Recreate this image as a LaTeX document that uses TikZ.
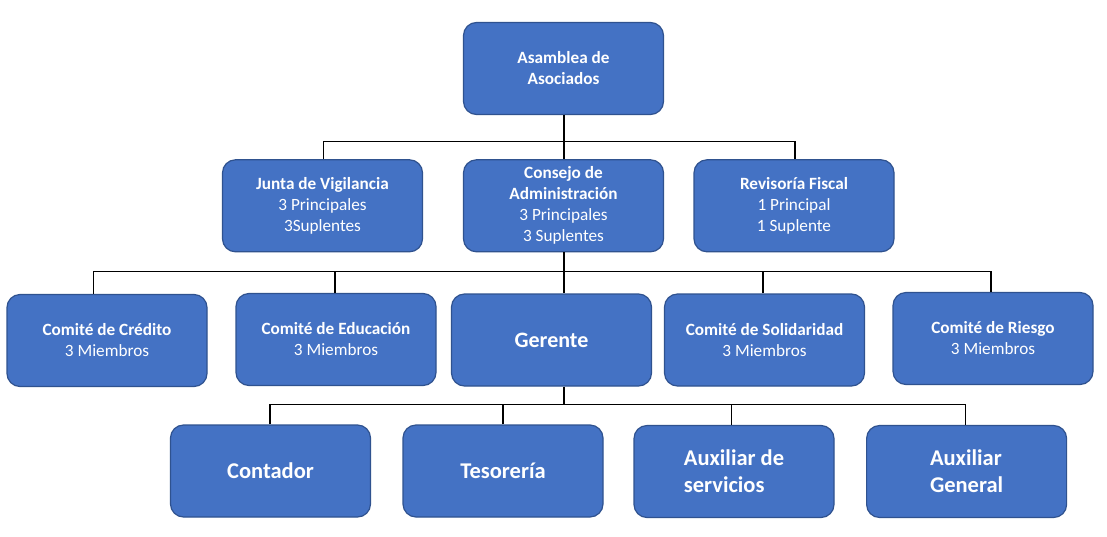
\documentclass[tikz,border=0pt]{standalone}
\usepackage{fontspec}
\setmainfont{Carlito}
\definecolor{boxfill}{HTML}{4472C4}
\definecolor{boxdraw}{HTML}{2F528F}
\tikzset{
  orgbox/.style={draw=boxdraw, line width=1.2pt, fill=boxfill, rounded corners=13pt,
    minimum width=200pt, minimum height=92pt, inner sep=2pt, text=white, align=center,
    font=\fontsize{17.2}{21}\selectfont},
  bigbox/.style={orgbox, font=\bfseries\fontsize{22.5}{27}\selectfont},
  conn/.style={draw=black, line width=1.5pt}
}
\begin{document}
\begin{tikzpicture}[x=1pt,y=-1pt]
\useasboundingbox[fill=white] (0,0) rectangle (1107,536);
% row 1
\node[orgbox] (asam) at (563.5,68.5) {\textbf{Asamblea de}\\\textbf{Asociados}};
% row 2
\node[orgbox] (junta) at (322.5,205.8) {\textbf{Junta de Vigilancia}\\3 Principales\\3Suplentes};
\node[orgbox] (cons) at (563.5,205.8) {\textbf{Consejo de}\\\textbf{Administración}\\3 Principales\\3 Suplentes};
\node[orgbox] (rev) at (794,205.8) {\textbf{Revisoría Fiscal}\\1 Principal\\1 Suplente};
% row 3
\node[orgbox] (cred) at (107,340.5) {\textbf{Comité de Crédito}\\3 Miembros};
\node[orgbox] (educ) at (336,339.5) {\textbf{Comité de Educación}\\3 Miembros};
\node[orgbox, font=\bfseries\fontsize{22}{27}\selectfont] (ger) at (551.5,340) {Gerente};
\node[orgbox] (sol) at (764.5,340) {\textbf{Comité de Solidaridad}\\3 Miembros};
\node[orgbox] (ries) at (993,338.5) {\textbf{Comité de Riesgo}\\3 Miembros};
% row 4
\node[bigbox] (cont) at (270.5,471) {Contador};
\node[bigbox] (tes) at (503,471) {Tesorería};
\node[bigbox, align=left] (aux1) at (734,471.5) {Auxiliar de\\servicios};
\node[bigbox, align=left] (aux2) at (966.6,471.5) {Auxiliar\\General};
% buses
\coordinate (b1) at (564,141.7);
\coordinate (b2) at (564,271.7);
\coordinate (b3) at (564,404.5);
% connectors
\draw[conn] (asam.south -| b1) -- (b1);
\draw[conn] ([xshift=1pt]junta.north) |- (b1) -| ([xshift=1pt]rev.north);
\draw[conn] (b1) -- (cons.north -| b1);
\draw[conn] (cons.south -| b2) -- (ger.north -| b2);
\draw[conn] ([xshift=-13.4pt]cred.north) |- (b2) -| ([xshift=-2pt]ries.north);
\draw[conn] ([xshift=-1pt]educ.north) |- (b2);
\draw[conn] ([xshift=-1.5pt]sol.north) |- (b2);
\draw[conn] (ger.south -| b3) -- (b3);
\draw[conn] ([xshift=-0.5pt]cont.north) |- (b3) -| ([xshift=-1pt]aux2.north);
\draw[conn] (tes.north) |- (b3);
\draw[conn] ([xshift=-2.4pt]aux1.north) |- (b3);
\end{tikzpicture}
\end{document}
